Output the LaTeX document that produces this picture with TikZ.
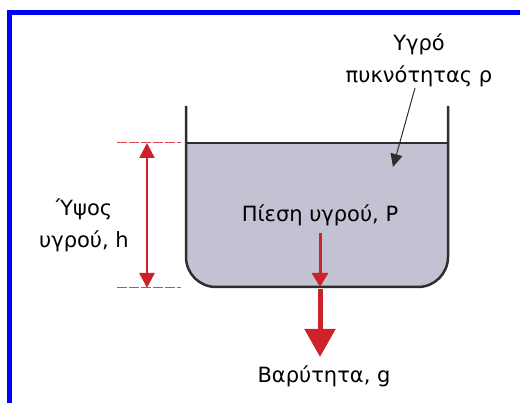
\documentclass[tikz,border=0pt]{standalone}
\usepackage{fontspec}
\setmainfont{DejaVu Sans}
\usetikzlibrary{arrows.meta}
\definecolor{tankfill}{HTML}{C2C2D3}
\definecolor{myred}{HTML}{CC2229}
\definecolor{dashred}{HTML}{D9474D}
\definecolor{wall}{HTML}{2E2E2E}
\definecolor{frameblue}{HTML}{0000FF}
\begin{document}
\begin{tikzpicture}[x=1pt,y=-1pt,
  lbl/.style={font=\fontsize{21}{32}\selectfont, inner sep=0pt, align=center},
  wallline/.style={draw=wall, line width=2.5pt},
  redarrow/.style={draw=myred, line width=3pt, -{Triangle[length=14pt,width=16pt]}},
  dimarrow/.style={draw=myred, line width=2.5pt, {Triangle[length=15pt,width=15pt]}-{Triangle[length=15pt,width=15pt]}},
  bigarrow/.style={draw=myred, line width=5pt, -{Triangle[length=28pt,width=30pt]}},
  guide/.style={draw=dashred, line width=1pt, dash pattern=on 10pt off 2pt},
  pointer/.style={draw=wall, line width=1pt, -{Triangle[length=13pt,width=12pt]}}]
\useasboundingbox (0,0) rectangle (520,403);
\begin{scope}
\clip (0,0) rectangle (520,403);
\draw[frameblue, line width=5pt] (9.5,420) -- (9.5,12.5) -- (540,12.5);
\end{scope}
% liquid
\fill[tankfill] (186,143) [rounded corners=30pt] -- (186,287) -- (448,287) [sharp corners] -- (448,143) -- cycle;
\draw[wallline] (186,143) -- (448,143);
\draw[wallline] (186,106) [rounded corners=30pt] -- (186,287) -- (448,287) -- (448,106);
% guides
\coordinate (gt1) at (117,143); \coordinate (gt2) at (181,143);
\coordinate (gb1) at (117,288); \coordinate (gb2) at (181,288);
\draw[guide] (gt1) -- (gt2);
\draw[guide] (gb1) -- (gb2);
\coordinate (dtop) at (147,143); \coordinate (dbot) at (147,288);
\draw[dimarrow] (dtop) -- (dbot);
% labels
\node[lbl] (height) at (84,225) {Ύψος\\υγρού, h};
\node[lbl] (liquid) at (419,60) {Υγρό\\πυκνότητας ρ};
\node[lbl] (press) at (320,215) {Πίεση υγρού, P};
\node[lbl] (grav) at (324,376) {Βαρύτητα, g};
\coordinate (ptip) at (393,167);
\coordinate (pstart) at (415,88);
\draw[pointer] (pstart) -- (ptip);
\coordinate (pbot) at (320,287);
\draw[redarrow] (320,233) -- (pbot);
\coordinate (gstart) at (320,289);
\draw[bigarrow] (gstart) -- (320,357);
\end{tikzpicture}
\end{document}
